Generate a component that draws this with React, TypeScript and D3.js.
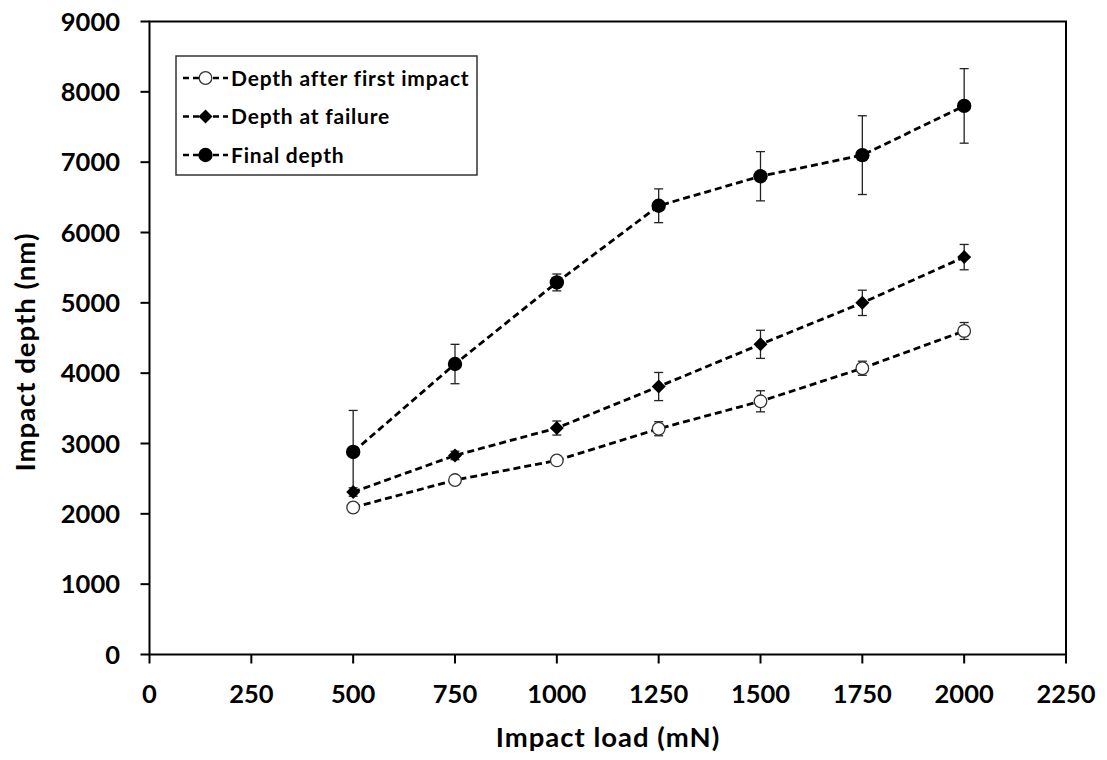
import React from "react";
import * as d3 from "d3";

// Impact load (mN) at which each series was measured
const loads = [500, 750, 1000, 1250, 1500, 1750, 2000];

const firstImpact = [2090, 2480, 2760, 3210, 3600, 4070, 4600];
const firstImpactErr = [40, 50, 50, 100, 150, 100, 120];

const atFailure = [2310, 2830, 3220, 3810, 4410, 5000, 5650];
const atFailureErr = [60, 60, 100, 200, 200, 180, 180];

const finalDepth = [2880, 4130, 5290, 6380, 6800, 7100, 7800];
const finalDepthErr = [590, 280, 120, 240, 350, 560, 530];

const xTicks = [0, 250, 500, 750, 1000, 1250, 1500, 1750, 2000, 2250];
const yTicks = [0, 1000, 2000, 3000, 4000, 5000, 6000, 7000, 8000, 9000];

const seriesNames = ["Depth after first impact", "Depth at failure", "Final depth"];

const W = 1107;
const H = 760;
const FONT = "Lato, 'Open Sans', sans-serif";

const x = d3.scaleLinear().domain([0, 2250]).range([149.5, 1066]);
const y = d3.scaleLinear().domain([0, 9000]).range([654.5, 21.5]);

type Kind = "open" | "diamond" | "filled";

const series: { name: string; vals: number[]; err: number[]; kind: Kind }[] = [
  { name: seriesNames[2], vals: finalDepth, err: finalDepthErr, kind: "filled" },
  { name: seriesNames[1], vals: atFailure, err: atFailureErr, kind: "diamond" },
  { name: seriesNames[0], vals: firstImpact, err: firstImpactErr, kind: "open" },
];

function Marker({ kind, cx, cy }: { kind: Kind; cx: number; cy: number }) {
  if (kind === "filled") return <circle cx={cx} cy={cy} r={7.2} fill="#000" />;
  if (kind === "open")
    return <circle cx={cx} cy={cy} r={6.3} fill="#fff" stroke="#333" strokeWidth={1.3} />;
  const s = 7;
  const p = `M${cx},${cy - s}L${cx + s},${cy}L${cx},${cy + s}L${cx - s},${cy}Z`;
  return <path d={p} fill="#000" />;
}

export default function App() {
  const line = d3
    .line<number>()
    .x((_, i) => x(loads[i]))
    .y((v) => y(v));

  const [x0, x1] = x.range();
  const [y0, y1] = y.range();

  const legendRows = [
    { name: seriesNames[0], kind: "open" as Kind, cy: 78 },
    { name: seriesNames[1], kind: "diamond" as Kind, cy: 116.5 },
    { name: seriesNames[2], kind: "filled" as Kind, cy: 155 },
  ];

  return (
    <svg
      width={W}
      height={H}
      style={{ position: "absolute", left: 0, top: 0, background: "#fff" }}
      fontFamily={FONT}
    >
      <rect width={W} height={H} fill="#fff" />

      {/* plot frame */}
      <rect x={x0} y={y1} width={x1 - x0} height={y0 - y1} fill="none" stroke="#000" strokeWidth={2} />

      {/* y ticks */}
      {yTicks.map((t) => (
        <g key={"y" + t}>
          <line x1={x0 - 9} x2={x0} y1={y(t)} y2={y(t)} stroke="#000" strokeWidth={2} />
          <text
            x={120}
            y={y(t)}
            dy="0.36em"
            textAnchor="end"
            fontSize={25.5}
            fontWeight={700}
            fill="#000"
          >
            {t}
          </text>
        </g>
      ))}

      {/* x ticks */}
      {xTicks.map((t) => (
        <g key={"x" + t}>
          <line x1={x(t)} x2={x(t)} y1={y0} y2={y0 + 9} stroke="#000" strokeWidth={2} />
          <text x={x(t)} y={703} textAnchor="middle" fontSize={25.5} fontWeight={700} fill="#000">
            {t}
          </text>
        </g>
      ))}

      {/* axis titles */}
      <text
        x={608}
        y={747}
        textAnchor="middle"
        fontSize={27.5}
        fontWeight={700}
        letterSpacing={1}
        fill="#000"
      >
        Impact load (mN)
      </text>
      <text
        transform={`translate(35,352) rotate(-90)`}
        textAnchor="middle"
        fontSize={27.5}
        fontWeight={700}
        letterSpacing={1}
        fill="#000"
      >
        Impact depth (nm)
      </text>

      {/* error bars */}
      {series.map((s) =>
        s.vals.map((v, i) => {
          const cx = x(loads[i]);
          const top = y(v + s.err[i]);
          const bot = y(v - s.err[i]);
          return (
            <g key={s.name + "e" + i} stroke="#222" strokeWidth={1.3}>
              <line x1={cx} x2={cx} y1={top} y2={bot} />
              <line x1={cx - 4.5} x2={cx + 4.5} y1={top} y2={top} />
              <line x1={cx - 4.5} x2={cx + 4.5} y1={bot} y2={bot} />
            </g>
          );
        })
      )}

      {/* dashed series lines */}
      {series.map((s) => (
        <path
          key={s.name + "l"}
          d={line(s.vals) || ""}
          fill="none"
          stroke="#000"
          strokeWidth={2.8}
          strokeDasharray="7 4"
        />
      ))}

      {/* markers */}
      {series.map((s) =>
        s.vals.map((v, i) => <Marker key={s.name + "m" + i} kind={s.kind} cx={x(loads[i])} cy={y(v)} />)
      )}

      {/* legend */}
      <rect x={176} y={56} width={301} height={119} fill="#fff" stroke="#333" strokeWidth={1.5} />
      {legendRows.map((r) => (
        <g key={"lg" + r.name}>
          <line x1={183} x2={228} y1={r.cy} y2={r.cy} stroke="#000" strokeWidth={2.5} strokeDasharray="6 4" />
          <Marker kind={r.kind} cx={205.5} cy={r.cy} />
          <text
            x={231}
            y={r.cy}
            dy="0.36em"
            fontSize={21}
            fontWeight={700}
            letterSpacing={0.8}
            fill="#000"
          >
            {r.name}
          </text>
        </g>
      ))}
    </svg>
  );
}
